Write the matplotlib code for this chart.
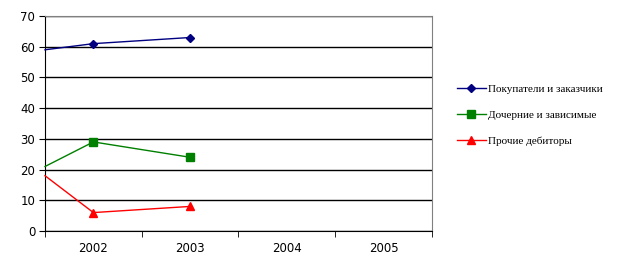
import matplotlib.pyplot as plt
import numpy as np

years = ["2002", "2003", "2004", "2005"]
buyers = [61, 63]
subsidiaries = [29, 24]
other = [6, 8]
# values where the lines enter at the left edge of the plot
start_vals = [59, 21, 18]
names = ["Покупатели и заказчики", "Дочерние и зависимые", "Прочие дебиторы"]

fig = plt.figure(figsize=(6.33, 2.65), dpi=100)
ax = fig.add_axes([45 / 633, 34 / 265, 387 / 633, 215 / 265])

x = np.arange(len(years))
series = [buyers, subsidiaries, other]
colors = ["#000080", "#008000", "#ff0000"]
markers = ["D", "s", "^"]
msizes = [4.5, 5.5, 5.5]

for s, st, c, m, ms, n in zip(series, start_vals, colors, markers, msizes, names):
    xs = np.concatenate([[-0.5], x[:len(s)]])
    ys = [st] + list(s)
    ax.plot(xs, ys, color=c, lw=1, zorder=3, clip_on=False)
    ax.plot(x[:len(s)], s, color=c, lw=0, marker=m, ms=ms, zorder=4, clip_on=False)
    ax.plot([], [], color=c, lw=1, marker=m, ms=ms, label=n)

ax.set_xlim(-0.5, len(years) - 0.5)
ax.set_ylim(0, 70)
ax.set_yticks(np.arange(0, 71, 10))
ax.set_xticks(x)
ax.set_xticklabels(years)
ax.set_xticks(np.arange(-0.5, len(years), 1), minor=True)
ax.tick_params(axis="x", which="major", length=0, pad=8, labelsize=8.5)
ax.tick_params(axis="x", which="minor", length=4, direction="out", color="black")
ax.tick_params(axis="y", length=4, direction="out", labelsize=8.5, pad=3)
ax.yaxis.grid(True, color="black", lw=1)
ax.set_axisbelow(True)
ax.spines["top"].set_color("#808080")
ax.spines["right"].set_color("#808080")
ax.spines["left"].set_color("black")
ax.spines["bottom"].set_color("black")

leg = fig.legend(loc="upper left", bbox_to_anchor=(447 / 633, 1 - 74 / 265),
                 frameon=False, prop={"family": "Liberation Serif", "size": 8},
                 handlelength=2.6, labelspacing=1.45, handletextpad=0.2)

fig.savefig("out.png", dpi=100, facecolor="white")
